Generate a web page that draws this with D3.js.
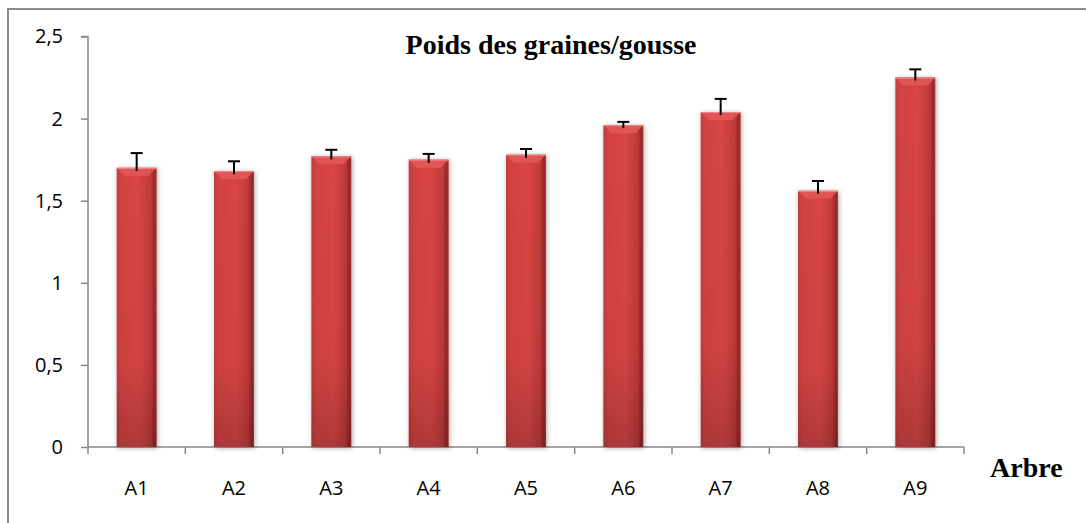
<!DOCTYPE html>
<html>
<head>
<meta charset="utf-8">
<script src="https://cdn.jsdelivr.net/npm/d3@7"></script>
<style>
  body { margin: 0; background: #fff; }
  .tick text { font-family: "Open Sans", sans-serif; font-size: 20px; fill: #000; }
  .axisTitle { font-family: "Liberation Serif", serif; font-weight: bold; font-size: 28px; fill: #000; }
</style>
</head>
<body>
<div id="chart"></div>
<script>
var svgWidth = 1086;
var svgHeight = 523;

// Data
var categories = ["A1", "A2", "A3", "A4", "A5", "A6", "A7", "A8", "A9"];
var values = [1.70, 1.68, 1.77, 1.75, 1.78, 1.96, 2.04, 1.56, 2.25];
var errors = [0.09, 0.06, 0.04, 0.035, 0.035, 0.02, 0.08, 0.06, 0.05];
var yTicks = [0, 0.5, 1, 1.5, 2, 2.5];

var margin = { top: 36.5, right: 122, bottom: 76, left: 88 };
var width = svgWidth - margin.left - margin.right;
var height = svgHeight - margin.top - margin.bottom;

var svg = d3.select("#chart")
  .append("svg")
  .attr("width", svgWidth)
  .attr("height", svgHeight);

// Gradients + shadow for the bevelled bars
var defs = svg.append("defs");
var hGrad = defs.append("linearGradient").attr("id", "barH")
  .attr("x1", "0%").attr("x2", "100%").attr("y1", "0%").attr("y2", "0%");
hGrad.append("stop").attr("offset", "0%").attr("stop-color", "#c23b3b");
hGrad.append("stop").attr("offset", "12%").attr("stop-color", "#d24242");
hGrad.append("stop").attr("offset", "55%").attr("stop-color", "#d84545");
hGrad.append("stop").attr("offset", "85%").attr("stop-color", "#c03a3a");
hGrad.append("stop").attr("offset", "95%").attr("stop-color", "#962828");
hGrad.append("stop").attr("offset", "100%").attr("stop-color", "#a83232");

var vGrad = defs.append("linearGradient").attr("id", "barV")
  .attr("x1", "0%").attr("x2", "0%").attr("y1", "0%").attr("y2", "100%");
vGrad.append("stop").attr("offset", "0%").attr("stop-color", "#000").attr("stop-opacity", 0);
vGrad.append("stop").attr("offset", "70%").attr("stop-color", "#000").attr("stop-opacity", 0.03);
vGrad.append("stop").attr("offset", "100%").attr("stop-color", "#000").attr("stop-opacity", 0.18);

var shadow = defs.append("filter").attr("id", "shadow")
  .attr("x", "-30%").attr("y", "-10%").attr("width", "160%").attr("height", "120%");
shadow.append("feGaussianBlur").attr("in", "SourceAlpha").attr("stdDeviation", 2.5);
shadow.append("feOffset").attr("dx", 1).attr("dy", 1).attr("result", "blur");
shadow.append("feComponentTransfer").append("feFuncA").attr("type", "linear").attr("slope", 0.35);
var merge = shadow.append("feMerge");
merge.append("feMergeNode");
merge.append("feMergeNode").attr("in", "SourceGraphic");

// Outer frame (right & bottom edges fall outside the picture)
svg.append("rect")
  .attr("x", 8).attr("y", 9)
  .attr("width", 1200).attr("height", 600)
  .attr("fill", "none")
  .attr("stroke", "#8c8c8c")
  .attr("stroke-width", 2);

var chartGroup = svg.append("g")
  .attr("transform", `translate(${margin.left}, ${margin.top})`);

var xScale = d3.scaleBand()
  .domain(categories)
  .range([0, width])
  .padding(0);

var yScale = d3.scaleLinear()
  .domain([0, 2.5])
  .range([height, 0]);

var barW = xScale.bandwidth() * 0.41;

// Axes
var leftAxis = d3.axisLeft(yScale)
  .tickValues(yTicks)
  .tickSize(7)
  .tickPadding(18)
  .tickFormat(d => String(d).replace(".", ","));

var yAxisG = chartGroup.append("g").call(leftAxis);
yAxisG.select(".domain").attr("d", `M-7,0H0V${height}`);

var bottomAxis = d3.axisBottom(xScale).tickSize(0).tickPadding(34);
var xAxisG = chartGroup.append("g")
  .attr("transform", `translate(0, ${height})`)
  .call(bottomAxis);
xAxisG.select(".domain").attr("d", `M0,0H${width}`);

// tick marks on band boundaries
xAxisG.selectAll(".bound")
  .data(d3.range(categories.length + 1))
  .enter()
  .append("line")
  .attr("class", "bound")
  .attr("x1", i => i * xScale.step())
  .attr("x2", i => i * xScale.step())
  .attr("y1", 0)
  .attr("y2", 7);

svg.selectAll(".domain, .tick line, .bound")
  .attr("stroke", "#878787")
  .attr("stroke-width", 1.5);

// Bars
var bars = chartGroup.selectAll(".bar")
  .data(values)
  .enter()
  .append("g")
  .attr("class", "bar")
  .attr("filter", "url(#shadow)");

bars.append("rect")
  .attr("x", (d, i) => xScale(categories[i]) + (xScale.bandwidth() - barW) / 2)
  .attr("y", d => yScale(d))
  .attr("width", barW)
  .attr("height", d => height - yScale(d))
  .attr("fill", "url(#barH)");

bars.append("rect")
  .attr("x", (d, i) => xScale(categories[i]) + (xScale.bandwidth() - barW) / 2)
  .attr("y", d => yScale(d))
  .attr("width", barW)
  .attr("height", d => height - yScale(d))
  .attr("fill", "url(#barV)");

// top bevel
bars.append("path")
  .attr("d", (d, i) => {
    var x0 = xScale(categories[i]) + (xScale.bandwidth() - barW) / 2;
    var y0 = yScale(d);
    return `M${x0},${y0}H${x0 + barW}L${x0 + barW - 8},${y0 + 8}H${x0 + 8}Z`;
  })
  .attr("fill", "#e35858")
  .attr("opacity", 0.85);

bars.append("line")
  .attr("x1", (d, i) => xScale(categories[i]) + (xScale.bandwidth() - barW) / 2)
  .attr("x2", (d, i) => xScale(categories[i]) + (xScale.bandwidth() + barW) / 2)
  .attr("y1", d => yScale(d) + 0.5)
  .attr("y2", d => yScale(d) + 0.5)
  .attr("stroke", "#ef8a8a")
  .attr("stroke-width", 1);

// Error bars (plus side only)
var errG = chartGroup.selectAll(".err")
  .data(values)
  .enter()
  .append("g")
  .attr("class", "err")
  .attr("stroke", "#000")
  .attr("stroke-width", 2);

errG.append("line")
  .attr("x1", (d, i) => xScale(categories[i]) + xScale.bandwidth() / 2)
  .attr("x2", (d, i) => xScale(categories[i]) + xScale.bandwidth() / 2)
  .attr("y1", d => yScale(d) + 3)
  .attr("y2", (d, i) => yScale(d + errors[i]));

errG.append("line")
  .attr("x1", (d, i) => xScale(categories[i]) + xScale.bandwidth() / 2 - 6)
  .attr("x2", (d, i) => xScale(categories[i]) + xScale.bandwidth() / 2 + 6)
  .attr("y1", (d, i) => yScale(d + errors[i]))
  .attr("y2", (d, i) => yScale(d + errors[i]));

// Titles
svg.append("text")
  .attr("class", "axisTitle")
  .attr("x", 551)
  .attr("y", 54)
  .attr("text-anchor", "middle")
  .text("Poids des graines/gousse");

svg.append("text")
  .attr("class", "axisTitle")
  .attr("x", 990)
  .attr("y", 477)
  .text("Arbre");
</script>
</body>
</html>
